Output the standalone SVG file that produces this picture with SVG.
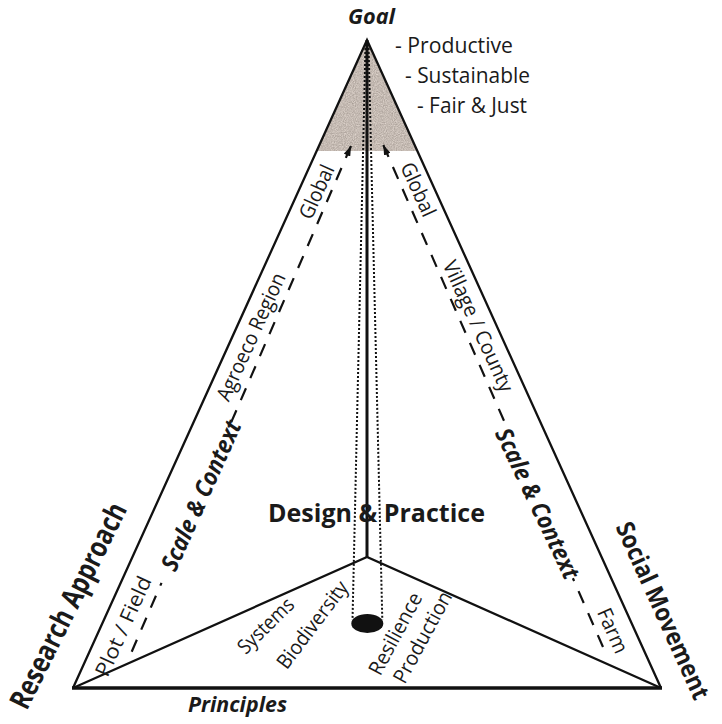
<svg xmlns="http://www.w3.org/2000/svg" width="722" height="724" viewBox="0 0 722 724">
  <defs>
    <style>
      text { font-family: "Open Sans", "Liberation Sans", sans-serif; fill: #1a1a1a; }
      .lbl { font-size: 20.5px; }
      .bi { font-weight: bold; font-style: italic; }
      .b { font-weight: bold; }
      .c { text-anchor: middle; dominant-baseline: central; }
      .edge { fill: none; stroke: #111; stroke-width: 2.3; stroke-linejoin: miter; }
      .base { fill: none; stroke: #111; stroke-width: 3.4; }
      .dash { fill: none; stroke: #111; stroke-width: 2.2; stroke-dasharray: 13 11; }
      .dot { fill: none; stroke: #111; stroke-width: 2; stroke-dasharray: 2 2; }
    </style>
    <marker id="arrow" viewBox="0 0 10 7" refX="10" refY="3.5" markerUnits="userSpaceOnUse" markerWidth="10" markerHeight="7" orient="auto-start-reverse">
      <path d="M0,0 L10,3.5 L0,7 z" fill="#111"/>
    </marker>
    <filter id="granite" x="0" y="0" width="1" height="1" color-interpolation-filters="sRGB">
      <feTurbulence type="fractalNoise" baseFrequency="0.9" numOctaves="2" seed="4" result="n"/>
      <feColorMatrix in="n" type="matrix" values="0.3 0 0 0 0.62  0.3 0 0 0 0.58  0.3 0 0 0 0.55  0 0 0 0 1" result="c"/>
      <feComposite in="c" in2="SourceGraphic" operator="in"/>
    </filter>
  </defs>

  <rect width="722" height="724" fill="#ffffff"/>

  <g id="goal-zone">
    <polygon points="367,40 316.6,151 417.4,151" fill="#c4bab3" filter="url(#granite)"/>
  </g>

  <g id="pyramid">
    <polyline class="edge" points="73,688 367,40 661,688"/>
    <line class="base" x1="72" y1="688" x2="662" y2="688"/>
    <polyline class="edge" points="73,688 367,557 661,688"/>
    <line x1="367" y1="40" x2="367" y2="558" stroke="#111" stroke-width="3"/>
  </g>

  <g id="core">
    <line class="dot" x1="365.5" y1="44" x2="352.5" y2="620"/>
    <line class="dot" x1="368.5" y1="44" x2="382.3" y2="620"/>
    <ellipse cx="367.3" cy="623.5" rx="16" ry="9.5" fill="#111"/>
  </g>

  <g id="connectors">
    <line class="dash" x1="131.7" y1="651.7" x2="161.5" y2="582.9"/>
    <line class="dash" x1="351" y1="146" x2="230.8" y2="423.2" marker-start="url(#arrow)"/>
    <line class="dash" x1="603" y1="647" x2="572.9" y2="578.3"/>
    <line class="dash" x1="383.3" y1="145" x2="504.4" y2="421.7" marker-start="url(#arrow)"/>
  </g>

  <g id="goal">
    <text class="bi" x="348" y="23.5" font-size="22" textLength="47" lengthAdjust="spacingAndGlyphs">Goal</text>
    <text x="395" y="53" font-size="21" textLength="118" lengthAdjust="spacingAndGlyphs">- Productive</text>
    <text x="405" y="83" font-size="21" textLength="125" lengthAdjust="spacingAndGlyphs">- Sustainable</text>
    <text x="417" y="112.5" font-size="21" textLength="110" lengthAdjust="spacingAndGlyphs">- Fair &amp; Just</text>
  </g>

  <g id="research-approach">
    <text class="b c" font-size="29" transform="translate(67,605) rotate(-63.5)" textLength="226" lengthAdjust="spacingAndGlyphs">Research Approach</text>
  </g>

  <g id="social-movement">
    <text class="b c" font-size="25" transform="translate(664,610) rotate(65.6)" textLength="192" lengthAdjust="spacingAndGlyphs">Social Movement</text>
  </g>

  <g id="design-practice">
    <text class="b" x="268" y="522" font-size="25" textLength="217" lengthAdjust="spacingAndGlyphs">Design &amp; Practice</text>
  </g>

  <g id="principles">
    <text class="bi" x="188" y="712" font-size="22" textLength="99" lengthAdjust="spacingAndGlyphs">Principles</text>
    <text class="lbl c" transform="translate(265,625) rotate(-44.5)" textLength="70" lengthAdjust="spacingAndGlyphs">Systems</text>
    <text class="lbl c" transform="translate(311.7,624.2) rotate(-53)" textLength="104" lengthAdjust="spacingAndGlyphs">Biodiversity</text>
    <text class="lbl c" transform="translate(394.5,633.3) rotate(-61.8)" textLength="90" lengthAdjust="spacingAndGlyphs">Resilience</text>
    <text class="lbl c" transform="translate(421.7,636.7) rotate(-61.6)" textLength="101" lengthAdjust="spacingAndGlyphs">Production</text>
  </g>

  <g id="scale-left">
    <text class="bi c" font-size="24" transform="translate(200,495) rotate(-65.8)" textLength="162" lengthAdjust="spacingAndGlyphs">Scale &amp; Context</text>
    <text class="lbl c" transform="translate(122.5,625.9) rotate(-65.5)" textLength="108" lengthAdjust="spacingAndGlyphs">Plot / Field</text>
    <text class="lbl c" transform="translate(250.2,336.5) rotate(-65.5)" textLength="138" lengthAdjust="spacingAndGlyphs">Agroeco Region</text>
    <text class="lbl c" transform="translate(315.8,191.4) rotate(-65.5)" textLength="57" lengthAdjust="spacingAndGlyphs">Global</text>
  </g>

  <g id="scale-right">
    <text class="bi c" font-size="24" transform="translate(538.5,503) rotate(64.5)" textLength="164" lengthAdjust="spacingAndGlyphs">Scale &amp; Context</text>
    <text class="lbl c" transform="translate(419,189) rotate(65.5)" textLength="57" lengthAdjust="spacingAndGlyphs">Global</text>
    <text class="lbl c" transform="translate(479,325.7) rotate(65.5)" textLength="142" lengthAdjust="spacingAndGlyphs">Village / County</text>
    <text class="lbl c" transform="translate(613.5,630.2) rotate(66)" textLength="47" lengthAdjust="spacingAndGlyphs">Farm</text>
  </g>
</svg>
